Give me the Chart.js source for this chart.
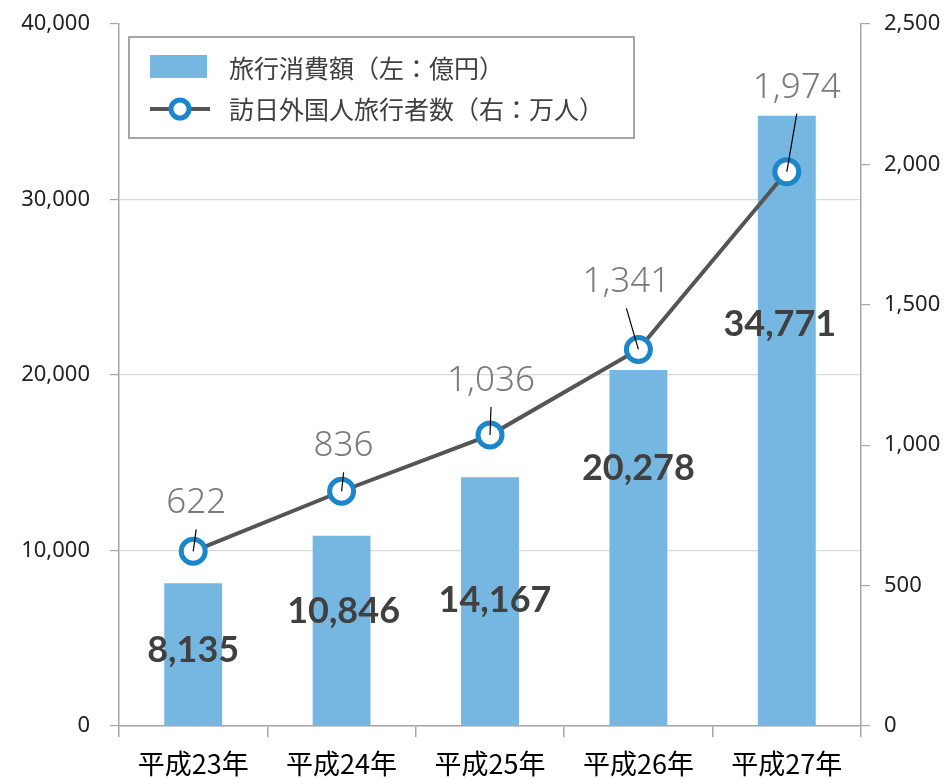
<!DOCTYPE html>
<html>
<head>
<meta charset="utf-8">
<script src="https://cdn.jsdelivr.net/npm/chart.js@4"></script>
<style>
  body { margin: 0; background: #fff; }
</style>
</head>
<body>
<canvas id="chart" width="947" height="779"></canvas>
<script>
const years = ["平成23年", "平成24年", "平成25年", "平成26年", "平成27年"];
const spending = [8135, 10846, 14167, 20278, 34771];   // 旅行消費額（億円）
const visitors = [622, 836, 1036, 1341, 1974];          // 訪日外国人旅行者数（万人）
const leftTicks = [0, 10000, 20000, 30000, 40000];
const rightTicks = [0, 500, 1000, 1500, 2000, 2500];

// label placement, relative to each bar top / point
const barLabelOffsets = [[0, 67], [2, 76], [5, 123], [0, 98], [-7, 209]];
const pointLabelOffsets = [[3, -48], [2, -45], [1, -54], [-12, -67], [10, -84]];

const fmt = (v) => v.toLocaleString("en-US");

const labelsPlugin = {
  id: "labels",
  afterDatasetsDraw(chart) {
    const ctx = chart.ctx;
    const bars = chart.getDatasetMeta(0).data;
    const pts = chart.getDatasetMeta(1).data;
    ctx.save();
    ctx.textAlign = "center";
    ctx.textBaseline = "middle";
    // bar values
    ctx.font = "bold 36px Lato, 'Noto Sans', sans-serif";
    ctx.fillStyle = "#404040";
    bars.forEach((b, i) => {
      ctx.fillText(fmt(spending[i]), b.x + barLabelOffsets[i][0], b.y + barLabelOffsets[i][1]);
    });
    // point values with leader lines
    ctx.font = "300 35px 'Noto Sans', sans-serif";
    ctx.fillStyle = "#7a7a7a";
    pts.forEach((p, i) => {
      const lx = p.x + pointLabelOffsets[i][0];
      const ly = p.y + pointLabelOffsets[i][1];
      ctx.fillText(fmt(visitors[i]), lx, ly);
      ctx.beginPath();
      ctx.strokeStyle = "#000";
      ctx.lineWidth = 1.2;
      ctx.moveTo(lx, ly + 26);
      ctx.lineTo(p.x, p.y);
      ctx.stroke();
    });

    // legend box
    ctx.strokeStyle = "#a6a6a6";
    ctx.lineWidth = 2;
    ctx.strokeRect(129, 37, 505, 101);
    ctx.fillStyle = "#75b7e1";
    ctx.fillRect(150, 55, 57, 23);
    ctx.beginPath();
    ctx.strokeStyle = "#555";
    ctx.lineWidth = 4;
    ctx.moveTo(150, 109);
    ctx.lineTo(210, 109);
    ctx.stroke();
    ctx.beginPath();
    ctx.arc(180, 109, 9, 0, Math.PI * 2);
    ctx.fillStyle = "#fff";
    ctx.fill();
    ctx.lineWidth = 5;
    ctx.strokeStyle = "#1b86c9";
    ctx.stroke();
    ctx.textAlign = "left";
    ctx.font = "25px 'Noto Sans CJK JP', sans-serif";
    ctx.fillStyle = "#404040";
    ctx.fillText(chart.data.datasets[0].label, 229, 68);
    ctx.fillText(chart.data.datasets[1].label, 229, 109);
    ctx.restore();
  }
};

new Chart(document.getElementById("chart"), {
  data: {
    labels: years,
    datasets: [
      {
        type: "bar",
        label: "旅行消費額（左：億円）",
        data: spending,
        yAxisID: "y",
        backgroundColor: "#75b7e1",
        barPercentage: 0.39,
        categoryPercentage: 1,
        order: 1
      },
      {
        type: "line",
        label: "訪日外国人旅行者数（右：万人）",
        data: visitors,
        yAxisID: "y1",
        borderColor: "#555555",
        borderWidth: 4,
        pointRadius: 12,
        pointBorderWidth: 5,
        pointBackgroundColor: "#ffffff",
        pointBorderColor: "#1b86c9",
        tension: 0,
        order: 0
      }
    ]
  },
  options: {
    responsive: false,
    animation: false,
    layout: { padding: { top: 24, right: 0, left: 0, bottom: 0 } },
    plugins: {
      legend: { display: false },
      tooltip: { enabled: false }
    },
    scales: {
      x: {
        offset: true,
        grid: {
          offset: true,
          drawOnChartArea: false,
          tickLength: 11,
          tickColor: "#a6a6a6",
          lineWidth: 1.5
        },
        border: { color: "#a6a6a6", width: 1.5 },
        ticks: {
          color: "#000",
          font: { family: "'Noto Sans CJK JP', sans-serif", size: 27 },
          padding: 11,
          maxRotation: 0
        },
        afterFit: (s) => { s.height = 53; }
      },
      y: {
        position: "left",
        min: 0,
        max: 40000,
        afterBuildTicks: (s) => { s.ticks = leftTicks.map((v) => ({ value: v })); },
        grid: {
          color: (c) => (c.tick && c.tick.value === 40000 ? "rgba(0,0,0,0)" : "#d9d9d9"),
          tickLength: 9,
          tickColor: "#a6a6a6",
          lineWidth: 1.2
        },
        border: { color: "#a6a6a6", width: 1.5 },
        ticks: {
          color: "#222",
          font: { family: "'Noto Sans', sans-serif", size: 22 },
          padding: 20,
          callback: (v) => fmt(v)
        },
        afterFit: (s) => { s.width = 119; s.paddingTop = 0; s.paddingBottom = 0; }
      },
      y1: {
        position: "right",
        min: 0,
        max: 2500,
        afterBuildTicks: (s) => { s.ticks = rightTicks.map((v) => ({ value: v })); },
        grid: {
          drawOnChartArea: false,
          tickLength: 9,
          tickColor: "#a6a6a6",
          lineWidth: 1.2
        },
        border: { color: "#a6a6a6", width: 1.5 },
        ticks: {
          color: "#222",
          font: { family: "'Noto Sans', sans-serif", size: 22 },
          padding: 14,
          callback: (v) => fmt(v)
        },
        afterFit: (s) => { s.width = 86; s.paddingTop = 0; s.paddingBottom = 0; }
      }
    }
  },
  plugins: [labelsPlugin]
});
</script>
</body>
</html>
